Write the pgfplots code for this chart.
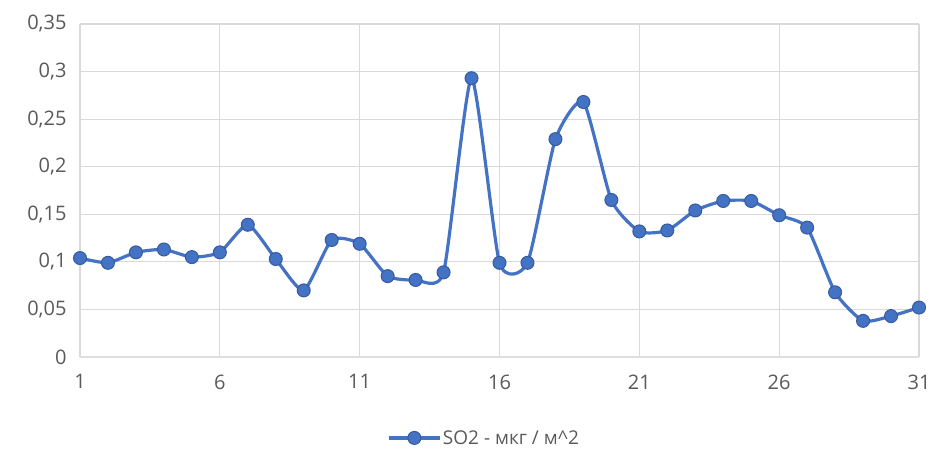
\documentclass[border=0pt]{standalone}
\usepackage{pgfplots}
\pgfplotsset{compat=1.18}
\usepackage{fontspec}
\setmainfont{Open Sans}
\definecolor{xlblue}{RGB}{68,114,196}
\definecolor{xlgrid}{RGB}{217,217,217}
\definecolor{xltext}{RGB}{89,89,89}
\begin{document}
\begin{tikzpicture}[x=1pt,y=1pt]
\useasboundingbox (-80,-104) rectangle (857,357);
\begin{axis}[
  scale only axis,
  width=839pt, height=333pt,
  at={(0,0)}, anchor=south west,
  xmin=1, xmax=31, ymin=0, ymax=0.35,
  xtick={1,6,...,31},
  ytick={0,0.05,...,0.35},
  yticklabels={0,{0,05},{0,1},{0,15},{0,2},{0,25},{0,3},{0,35}},
  /pgf/number format/assume math mode=true,
  grid=major,
  major grid style={xlgrid, line width=1.2pt},
  axis line style={draw=none},
  axis x line*=bottom,
  axis y line*=left,
  tick style={draw=none},
  ticklabel style={font=\fontsize{20}{24}\selectfont, text=xltext},
  xticklabel style={yshift=-14pt},
  yticklabel style={xshift=-10pt},
  legend style={at={(0.482,-0.243)}, anchor=center, draw=none, fill=none,
    font=\fontsize{19}{22}\selectfont, text=xltext, legend cell align=left},
  legend image code/.code={\draw[mark repeat=2,mark phase=2,#1] plot coordinates {(0pt,0pt) (25pt,0pt) (50pt,0pt)};},
]
\draw[xlgrid!80!black!40, line width=1.5pt] (axis cs:1,0) -- (axis cs:31,0);
\addplot[xlblue, line width=3.2pt, smooth, tension=0.35, mark=*, mark size=6.5pt,
  mark options={fill=xlblue, draw=xlblue!80!black, line width=1pt}]
coordinates {
(1,0.104) (2,0.099) (3,0.110) (4,0.113) (5,0.105) (6,0.110) (7,0.139) (8,0.103)
(9,0.070) (10,0.123) (11,0.119) (12,0.085) (13,0.081) (14,0.089) (15,0.293)
(16,0.099) (17,0.099) (18,0.229) (19,0.268) (20,0.165) (21,0.132) (22,0.133)
(23,0.154) (24,0.164) (25,0.164) (26,0.149) (27,0.136) (28,0.068) (29,0.038)
(30,0.043) (31,0.052)
};
\addlegendentry{SO2 - мкг / м\textasciicircum 2}
\end{axis}
\end{tikzpicture}
\end{document}
